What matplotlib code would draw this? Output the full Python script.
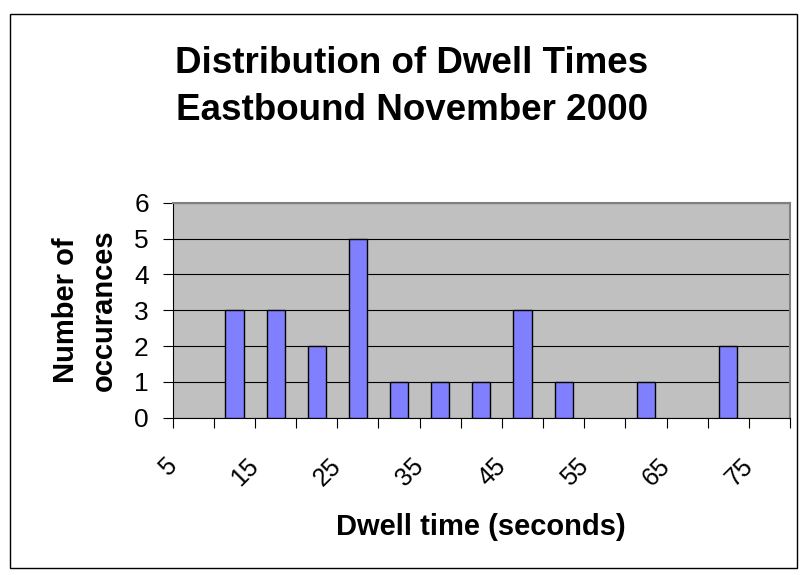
import matplotlib
matplotlib.use("Agg")
import matplotlib.pyplot as plt
from matplotlib.patches import Rectangle
from matplotlib.transforms import ScaledTranslation
import numpy as np


# dwell time bins (seconds) and counts
dwell_bins = [5, 10, 15, 20, 25, 30, 35, 40, 45, 50, 55, 60, 65, 70, 75]
occurances = [0, 3, 3, 2, 5, 1, 1, 1, 3, 1, 0, 1, 0, 2, 0]

# only every other bin gets a label
label_bins = dwell_bins[::2]

y_ticks = [0, 1, 2, 3, 4, 5, 6]

title_lines = ["Distribution of Dwell Times", "Eastbound November 2000"]


plt.rcParams["font.family"] = ["Liberation Sans", "DejaVu Sans"]

fig = plt.figure(figsize=(8, 5.75), dpi=100)

ax = fig.add_axes([0.2159, 0.2736, 0.7716, 0.3739])

ax.set_facecolor("#C0C0C0")

x = np.arange(len(dwell_bins))
counts = np.array(occurances)

# empty bins get no bar at all
has_data = counts > 0

ax.bar(
    x[has_data],
    counts[has_data],
    width=0.44,
    color="#8080FF",
    edgecolor="black",
    linewidth=1.0,
    zorder=3
)

ax.set_xlim(-0.5, len(dwell_bins) - 0.5)
ax.set_ylim(0, 6)

# gridlines at every count
ax.set_yticks(y_ticks)
ax.set_yticklabels([str(v) for v in y_ticks], fontsize=19)
ax.yaxis.grid(True, color="black", linewidth=0.8, zorder=1)
ax.set_axisbelow(True)
ax.tick_params(axis="y", direction="out", length=7.2, width=0.8, pad=10.0)

# category boundaries carry the tick marks, labels sit in the middle
ax.set_xticks(x[::2])
ax.set_xticklabels([str(v) for v in label_bins], fontsize=18,
                   rotation=45, ha="right", va="top")
ax.set_xticks(np.arange(len(dwell_bins) + 1) - 0.5, minor=True)
ax.tick_params(axis="x", which="major", length=0, pad=26.0)
ax.tick_params(axis="x", which="minor", direction="out", length=7.2, width=0.8)

shift = ScaledTranslation(-12 / 100, 0, fig.dpi_scale_trans)
for lbl in ax.get_xticklabels():
    lbl.set_transform(lbl.get_transform() + shift)

for side in ["top", "right"]:
    ax.spines[side].set_color("#808080")
    ax.spines[side].set_linewidth(1.5)
for side in ["left", "bottom"]:
    ax.spines[side].set_color("black")
    ax.spines[side].set_linewidth(0.8)

fig.text(
    412 / 800, 1 - 87 / 575,
    "\n".join(title_lines),
    fontsize=26.5,
    fontweight="bold",
    ha="center",
    va="center",
    linespacing=1.45
)

fig.text(
    481 / 800, 1 - 535 / 575,
    "Dwell time (seconds)",
    fontsize=21,
    fontweight="bold",
    ha="center",
    va="baseline"
)

fig.text(
    84.5 / 800, 1 - 310 / 575,
    "Number of\noccurances",
    fontsize=21,
    fontweight="bold",
    rotation=90,
    ha="center",
    va="center",
    multialignment="center",
    linespacing=1.45
)

# outer chart frame
fig.patches.append(Rectangle(
    (9.5 / 800, 7 / 575),
    (797 - 9.5) / 800,
    (575 - 13.5 - 7) / 575,
    transform=fig.transFigure,
    fill=False,
    edgecolor="black",
    linewidth=1.0
))

fig.savefig("out.png", dpi=100, facecolor="white")
